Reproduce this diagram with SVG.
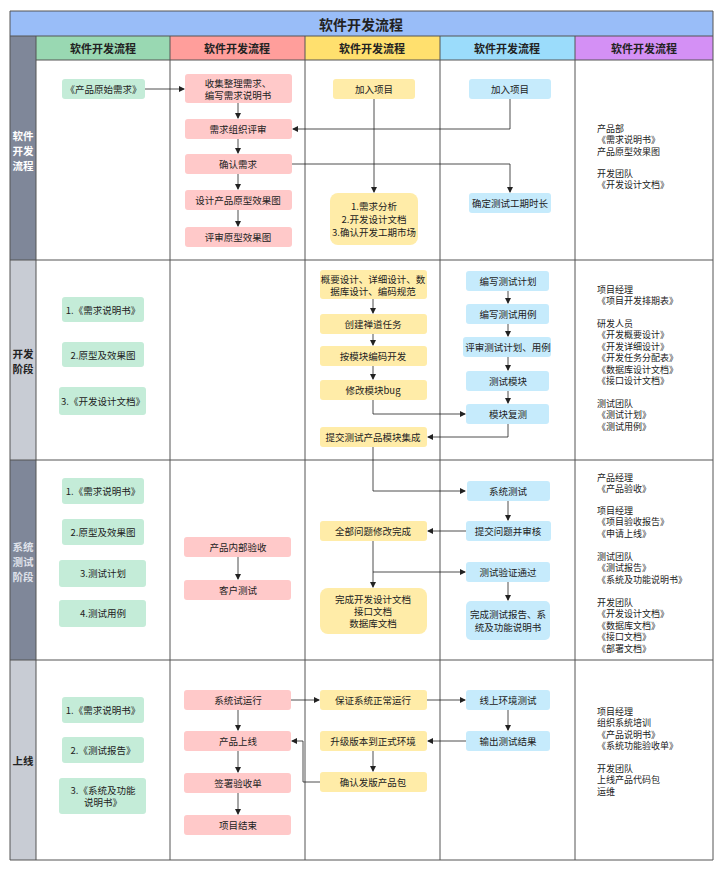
<svg xmlns="http://www.w3.org/2000/svg" width="720" height="872" viewBox="0 0 720 872">
<style>
text{font-family:"Noto Sans CJK SC","Liberation Sans",sans-serif;font-size:9.5px;fill:#222;text-anchor:middle;dominant-baseline:central}
.h{font-weight:bold;font-size:11px}
.v{font-weight:bold;font-size:10.5px}
.t{font-weight:bold;font-size:14px}
.l{text-anchor:start;font-size:9px}
.g{fill:#c4ecd8}.p{fill:#ffc9c9}.y{fill:#ffeca8}.b{fill:#c6ebfc}
.grid{stroke:#555;stroke-width:1;fill:none}
.c{stroke:#222;stroke-width:0.8;fill:none;marker-end:url(#a)}
</style>
<defs><marker id="a" markerWidth="6" markerHeight="6" refX="5" refY="3" orient="auto" markerUnits="userSpaceOnUse"><path d="M0,0 L6,3 L0,6 z" fill="#222"/></marker></defs>
<rect x="0" y="0" width="720" height="872" fill="#fff"/>
<g id="frame">
<rect x="10" y="11" width="703" height="25" fill="#99bdf8"/>
<text x="361" y="24" class="t">软件开发流程</text>
<rect x="36" y="36" width="134" height="24" fill="#99d8b2"/>
<rect x="170" y="36" width="135" height="24" fill="#ff9e9b"/>
<rect x="305" y="36" width="135" height="24" fill="#ffe06e"/>
<rect x="440" y="36" width="135" height="24" fill="#9bdcfb"/>
<rect x="575" y="36" width="138" height="24" fill="#d490f5"/>
<text x="103" y="48" class="h">软件开发流程</text>
<text x="237" y="48" class="h">软件开发流程</text>
<text x="372" y="48" class="h">软件开发流程</text>
<text x="507" y="48" class="h">软件开发流程</text>
<text x="644" y="48" class="h">软件开发流程</text>
<rect x="10" y="36" width="26" height="224" fill="#7f8799"/>
<rect x="10" y="260" width="26" height="200" fill="#c8ccd4"/>
<rect x="10" y="460" width="26" height="200" fill="#7f8799"/>
<rect x="10" y="660" width="26" height="200" fill="#c8ccd4"/>
<text x="23" y="135" class="v" style="fill:#fff">软件</text><text x="23" y="150" class="v" style="fill:#fff">开发</text><text x="23" y="165" class="v" style="fill:#fff">流程</text>
<text x="23" y="353" class="v">开发</text><text x="23" y="368" class="v">阶段</text>
<text x="23" y="546" class="v" style="fill:#dfe2ea">系统</text><text x="23" y="561" class="v" style="fill:#dfe2ea">测试</text><text x="23" y="576" class="v" style="fill:#dfe2ea">阶段</text>
<text x="23" y="760" class="v">上线</text>
<path class="grid" d="M10,11 H713 V860 H10 Z M10,36 H713 M36,36 V860 M170,36 V860 M305,36 V860 M440,36 V860 M575,36 V860 M36,60 H713 M10,260 H713 M10,460 H713 M10,660 H713"/>
</g>
<g id="connectors">
<path class="c" d="M145,89 H184"/>
<path class="c" d="M238,103 V118"/>
<path class="c" d="M238,139 V153"/>
<path class="c" d="M238,174 V189"/>
<path class="c" d="M238,210 V226"/>
<path class="c" d="M374,99 V192"/>
<path class="c" d="M510,99 V129 H293"/>
<path class="c" d="M292,164 H510 V192"/>
<path class="c" d="M373,299 V313"/>
<path class="c" d="M373,334 V345"/>
<path class="c" d="M373,366 V379"/>
<path class="c" d="M373,400 V414 H465"/>
<path class="c" d="M508,291 V303"/>
<path class="c" d="M508,324 V336"/>
<path class="c" d="M508,357 V370"/>
<path class="c" d="M508,391 V403"/>
<path class="c" d="M508,424 V437 H428"/>
<path class="c" d="M373,447 V491 H465"/>
<path class="c" d="M508,501 V520"/>
<path class="c" d="M466,531 H428"/>
<path class="c" d="M373,541 V587"/>
<path class="c" d="M373,572 H465"/>
<path class="c" d="M508,582 V600"/>
<path class="c" d="M238,557 V579"/>
<path class="c" d="M291,700 H319"/>
<path class="c" d="M427,700 H465"/>
<path class="c" d="M508,710 V730"/>
<path class="c" d="M466,741 H428"/>
<path class="c" d="M373,751 V771"/>
<path class="c" d="M320,782 H303 V741 H292"/>
<path class="c" d="M238,710 V730"/>
<path class="c" d="M238,751 V772"/>
<path class="c" d="M238,793 V814"/>
</g>
<g id="n1"><rect class="g" x="62" y="79" width="83" height="20" rx="3"/><text x="103.5" y="89">《产品原始需求》</text></g>
<g id="n2"><rect class="p" x="185" y="74" width="107" height="29" rx="3"/><text x="238" y="83">收集整理需求、</text><text x="238" y="95">编写需求说明书</text></g>
<g id="n3"><rect class="p" x="185" y="119" width="107" height="20" rx="3"/><text x="238" y="129">需求组织评审</text></g>
<g id="n4"><rect class="p" x="185" y="154" width="107" height="20" rx="3"/><text x="238" y="164">确认需求</text></g>
<g id="n5"><rect class="p" x="185" y="190" width="107" height="20" rx="3"/><text x="238" y="200">设计产品原型效果图</text></g>
<g id="n6"><rect class="p" x="185" y="227" width="107" height="20" rx="3"/><text x="238" y="237">评审原型效果图</text></g>
<g id="n7"><rect class="y" x="333" y="79" width="82" height="20" rx="3"/><text x="374" y="89">加入项目</text></g>
<g id="n8"><rect class="y" x="330" y="193" width="88" height="52" rx="8"/><text x="374" y="206">1.需求分析</text><text x="374" y="219">2.开发设计文档</text><text x="374" y="232">3.确认开发工期市场</text></g>
<g id="n9"><rect class="b" x="469" y="79" width="82" height="20" rx="3"/><text x="510" y="89">加入项目</text></g>
<g id="n10"><rect class="b" x="469" y="193" width="82" height="20" rx="3"/><text x="510" y="203">确定测试工期时长</text></g>
<g id="r1txt"><text class="l" x="597" y="128">产品部</text><text class="l" x="597" y="139.5">《需求说明书》</text><text class="l" x="597" y="151">产品原型效果图</text><text class="l" x="597" y="173">开发团队</text><text class="l" x="597" y="184.5">《开发设计文档》</text></g>

<g id="g21"><rect class="g" x="62" y="297" width="82" height="25" rx="3"/><text x="103" y="309.5">1.《需求说明书》</text></g>
<g id="g22"><rect class="g" x="62" y="342" width="82" height="25" rx="3"/><text x="103" y="354.5">2.原型及效果图</text></g>
<g id="g23"><rect class="g" x="59" y="387" width="87" height="28" rx="3"/><text x="103" y="401">3.《开发设计文档》</text></g>
<g id="n21"><rect class="y" x="320" y="270" width="107" height="29" rx="3"/><text x="373" y="279">概要设计、详细设计、数</text><text x="373" y="291">据库设计、编码规范</text></g>
<g id="n22"><rect class="y" x="320" y="314" width="107" height="20" rx="3"/><text x="373" y="324">创建禅道任务</text></g>
<g id="n23"><rect class="y" x="320" y="346" width="107" height="20" rx="3"/><text x="373" y="356">按模块编码开发</text></g>
<g id="n24"><rect class="y" x="320" y="380" width="107" height="20" rx="3"/><text x="373" y="390">修改模块bug</text></g>
<g id="n25"><rect class="y" x="320" y="427" width="107" height="20" rx="3"/><text x="373" y="437">提交测试产品模块集成</text></g>
<g id="n26"><rect class="b" x="466" y="271" width="83" height="20" rx="3"/><text x="508" y="281">编写测试计划</text></g>
<g id="n27"><rect class="b" x="466" y="304" width="83" height="20" rx="3"/><text x="508" y="314">编写测试用例</text></g>
<g id="n28"><rect class="b" x="463" y="337" width="88" height="20" rx="3"/><text x="508" y="347">评审测试计划、用例</text></g>
<g id="n29"><rect class="b" x="466" y="371" width="83" height="20" rx="3"/><text x="508" y="381">测试模块</text></g>
<g id="n30"><rect class="b" x="466" y="404" width="83" height="20" rx="3"/><text x="508" y="414">模块复测</text></g>
<g id="r2txt"><text class="l" x="597" y="289">项目经理</text><text class="l" x="597" y="300.5">《项目开发排期表》</text><text class="l" x="597" y="323">研发人员</text><text class="l" x="597" y="334.5">《开发概要设计》</text><text class="l" x="597" y="346">《开发详细设计》</text><text class="l" x="597" y="357.5">《开发任务分配表》</text><text class="l" x="597" y="369">《数据库设计文档》</text><text class="l" x="597" y="380.5">《接口设计文档》</text><text class="l" x="597" y="403">测试团队</text><text class="l" x="597" y="414.5">《测试计划》</text><text class="l" x="597" y="426">《测试用例》</text></g>

<g id="g31"><rect class="g" x="62" y="478" width="82" height="26" rx="3"/><text x="103" y="491">1.《需求说明书》</text></g>
<g id="g32"><rect class="g" x="62" y="519" width="82" height="26" rx="3"/><text x="103" y="532">2.原型及效果图</text></g>
<g id="g33"><rect class="g" x="59" y="560" width="87" height="27" rx="3"/><text x="103" y="573">3.测试计划</text></g>
<g id="g34"><rect class="g" x="59" y="600" width="87" height="27" rx="3"/><text x="103" y="613">4.测试用例</text></g>
<g id="n31"><rect class="p" x="184" y="537" width="107" height="20" rx="3"/><text x="238" y="547">产品内部验收</text></g>
<g id="n32"><rect class="p" x="184" y="580" width="107" height="20" rx="3"/><text x="238" y="590">客户测试</text></g>
<g id="n33"><rect class="y" x="320" y="521" width="107" height="20" rx="3"/><text x="373" y="531">全部问题修改完成</text></g>
<g id="n34"><rect class="y" x="320" y="588" width="107" height="46" rx="8"/><text x="373" y="599">完成开发设计文档</text><text x="373" y="611">接口文档</text><text x="373" y="623">数据库文档</text></g>
<g id="n35"><rect class="b" x="467" y="481" width="83" height="20" rx="3"/><text x="508" y="491">系统测试</text></g>
<g id="n36"><rect class="b" x="466" y="521" width="85" height="20" rx="3"/><text x="508" y="531">提交问题并审核</text></g>
<g id="n37"><rect class="b" x="466" y="562" width="84" height="20" rx="3"/><text x="508" y="572">测试验证通过</text></g>
<g id="n38"><rect class="b" x="466" y="601" width="84" height="39" rx="5"/><text x="508" y="614">完成测试报告、系</text><text x="508" y="627">统及功能说明书</text></g>
<g id="r3txt"><text class="l" x="597" y="477">产品经理</text><text class="l" x="597" y="488.5">《产品验收》</text><text class="l" x="597" y="510">项目经理</text><text class="l" x="597" y="521.5">《项目验收报告》</text><text class="l" x="597" y="533">《申请上线》</text><text class="l" x="597" y="556">测试团队</text><text class="l" x="597" y="567.5">《测试报告》</text><text class="l" x="597" y="579">《系统及功能说明书》</text><text class="l" x="597" y="602">开发团队</text><text class="l" x="597" y="613.5">《开发设计文档》</text><text class="l" x="597" y="625">《数据库文档》</text><text class="l" x="597" y="636.5">《接口文档》</text><text class="l" x="597" y="648">《部署文档》</text></g>

<g id="g41"><rect class="g" x="62" y="697" width="82" height="26" rx="3"/><text x="103" y="710">1.《需求说明书》</text></g>
<g id="g42"><rect class="g" x="62" y="737" width="82" height="26" rx="3"/><text x="103" y="750">2.《测试报告》</text></g>
<g id="g43"><rect class="g" x="59" y="778" width="87" height="36" rx="3"/><text x="103" y="790">3.《系统及功能</text><text x="103" y="802">说明书》</text></g>
<g id="n41"><rect class="p" x="184" y="690" width="107" height="20" rx="3"/><text x="238" y="700">系统试运行</text></g>
<g id="n42"><rect class="p" x="184" y="731" width="107" height="20" rx="3"/><text x="238" y="741">产品上线</text></g>
<g id="n43"><rect class="p" x="184" y="773" width="107" height="20" rx="3"/><text x="238" y="783">签署验收单</text></g>
<g id="n44"><rect class="p" x="184" y="815" width="107" height="20" rx="3"/><text x="238" y="825">项目结束</text></g>
<g id="n45"><rect class="y" x="320" y="690" width="107" height="20" rx="3"/><text x="373" y="700">保证系统正常运行</text></g>
<g id="n46"><rect class="y" x="320" y="731" width="107" height="20" rx="3"/><text x="373" y="741">升级版本到正式环境</text></g>
<g id="n47"><rect class="y" x="320" y="772" width="107" height="20" rx="3"/><text x="373" y="782">确认发版产品包</text></g>
<g id="n48"><rect class="b" x="466" y="690" width="84" height="20" rx="3"/><text x="508" y="700">线上环境测试</text></g>
<g id="n49"><rect class="b" x="466" y="731" width="84" height="20" rx="3"/><text x="508" y="741">输出测试结果</text></g>
<g id="r4txt"><text class="l" x="597" y="711">项目经理</text><text class="l" x="597" y="722.5">组织系统培训</text><text class="l" x="597" y="734">《产品说明书》</text><text class="l" x="597" y="745.5">《系统功能验收单》</text><text class="l" x="597" y="768">开发团队</text><text class="l" x="597" y="779.5">上线产品代码包</text><text class="l" x="597" y="791">运维</text></g>
</svg>
